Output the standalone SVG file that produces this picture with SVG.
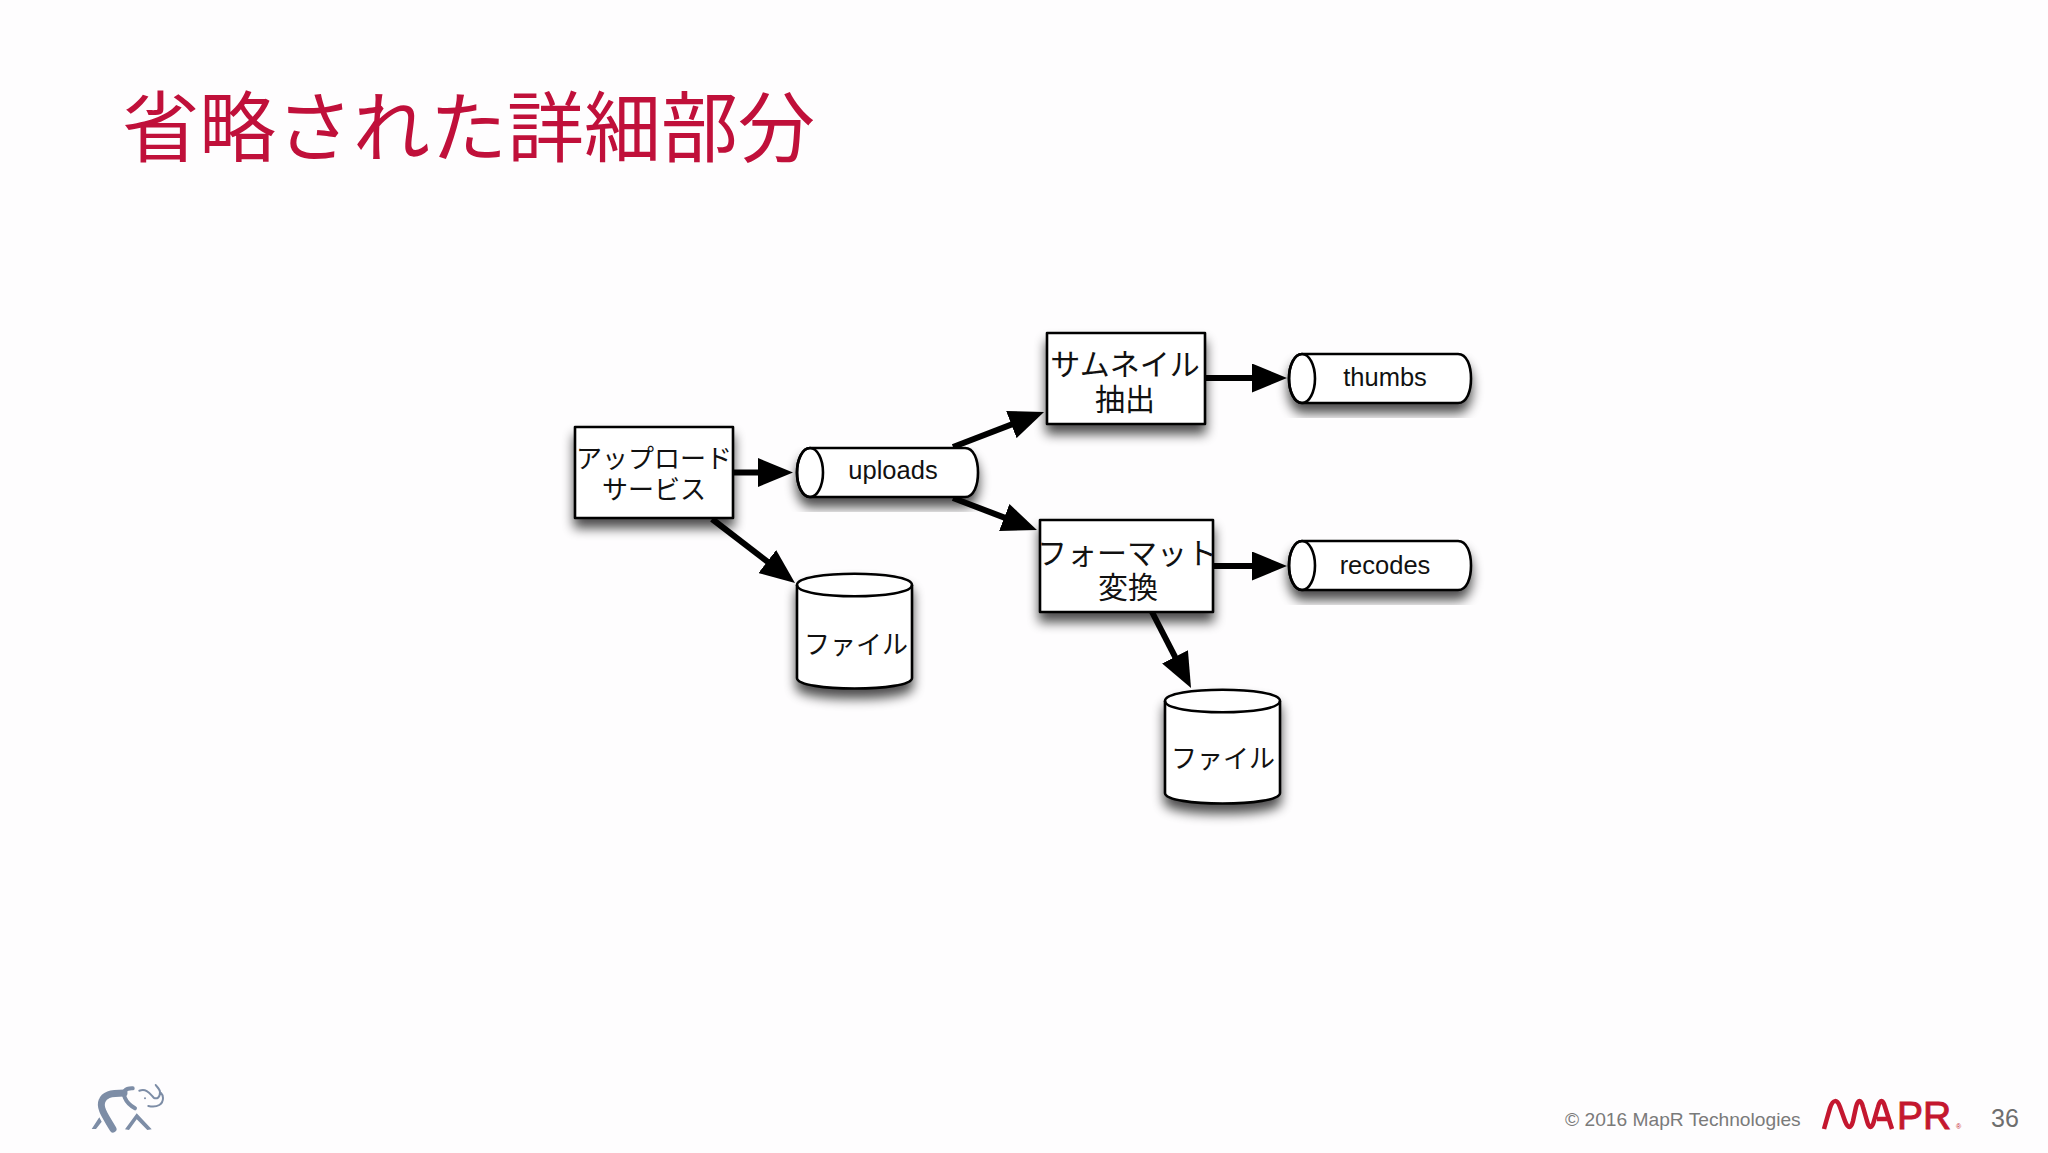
<svg xmlns="http://www.w3.org/2000/svg" width="2048" height="1153" viewBox="0 0 2048 1153">
<style>
.s{fill:#fff;stroke:#000;stroke-width:2.600;stroke-linejoin:round}
.n{fill:none;stroke:#000;stroke-width:2.600}
.j{font-family:"Noto Sans CJK JP","Noto Sans",sans-serif;font-weight:400;fill:#111;text-anchor:middle}
.l{font-family:"Liberation Sans",Arial,sans-serif;font-size:25.500px;fill:#111;text-anchor:middle}
.c{stroke:#000;stroke-width:6;fill:none}
.e{fill:none;stroke:#7d8da6;stroke-linecap:round}
</style>
<defs>
<filter id="sh" x="-20%" y="-20%" width="140%" height="150%"><feGaussianBlur in="SourceAlpha" stdDeviation="6"/><feOffset dy="9"/><feComponentTransfer><feFuncA type="linear" slope="0.7"/></feComponentTransfer><feMerge><feMergeNode/><feMergeNode in="SourceGraphic"/></feMerge></filter>
<marker id="ah" markerUnits="userSpaceOnUse" markerWidth="36" markerHeight="29" refX="10" refY="14.500" orient="auto"><path d="M0,0L35,14.500L0,29Z" fill="#000"/></marker>
</defs>
<rect width="2048" height="1153" fill="#fefdfe"/>
<text x="122" y="156" font-family="'Noto Sans CJK JP',sans-serif" font-weight="400" font-size="77" fill="#c0103a">省略された詳細部分</text>
<g id="connectors">
<path class="c" d="M733,472.500H768" marker-end="url(#ah)"/>
<path class="c" d="M953,447L1020.700,421" marker-end="url(#ah)"/>
<path class="c" d="M953,498L1013.600,521.100" marker-end="url(#ah)"/>
<path class="c" d="M712,519L775.200,567.700" marker-end="url(#ah)"/>
<path class="c" d="M1205,378H1262" marker-end="url(#ah)"/>
<path class="c" d="M1213,566H1262" marker-end="url(#ah)"/>
<path class="c" d="M1152,612L1179.600,665.700" marker-end="url(#ah)"/>
</g>
<g id="upload-service"><rect class="s" filter="url(#sh)" x="575" y="427" width="158" height="91"/><text class="j" font-size="26" x="654" y="468">アップロード</text><text class="j" font-size="26" x="654" y="499">サービス</text></g>
<g id="uploads"><path class="s" filter="url(#sh)" d="M810,448H965C974,448 978,460 978,472.500C978,485 974,497 965,497H810C802,497 797,485 797,472.500C797,460 802,448 810,448Z"/><ellipse class="n" cx="810" cy="472.500" rx="13" ry="24.500"/><text class="l" x="893" y="479">uploads</text></g>
<g id="thumbnail"><rect class="s" filter="url(#sh)" x="1047" y="333" width="158" height="91"/><text class="j" font-size="30" x="1125" y="375">サムネイル</text><text class="j" font-size="30" x="1125" y="410">抽出</text></g>
<g id="thumbs"><path class="s" filter="url(#sh)" d="M1302,354H1458C1467,354 1471,366 1471,378.500C1471,391 1467,403 1458,403H1302C1294,403 1289,391 1289,378.500C1289,366 1294,354 1302,354Z"/><ellipse class="n" cx="1302" cy="378.500" rx="13" ry="24.500"/><text class="l" x="1385" y="386">thumbs</text></g>
<g id="format"><rect class="s" filter="url(#sh)" x="1040" y="520" width="173" height="92"/><text class="j" font-size="30" x="1127" y="564">フォーマット</text><text class="j" font-size="30" x="1128" y="598">変換</text></g>
<g id="recodes"><path class="s" filter="url(#sh)" d="M1302,541H1458C1467,541 1471,553 1471,565.500C1471,578 1467,590 1458,590H1302C1294,590 1289,578 1289,565.500C1289,553 1294,541 1302,541Z"/><ellipse class="n" cx="1302" cy="565.500" rx="13" ry="24.500"/><text class="l" x="1385" y="574">recodes</text></g>
<g id="file-1"><path class="s" filter="url(#sh)" d="M797,585C797,570 912,570 912,585V678C912,692 797,692 797,678Z"/><path class="n" d="M797,585C797,600 912,600 912,585"/><text class="j" font-size="26" x="856" y="654">ファイル</text></g>
<g id="file-2"><path class="s" filter="url(#sh)" d="M1165,701C1165,686 1280,686 1280,701V793C1280,807 1165,807 1165,793Z"/><path class="n" d="M1165,701C1165,716 1280,716 1280,701"/><text class="j" font-size="26" x="1223" y="768">ファイル</text></g>
<g id="elephant">
<path class="e" stroke-width="7" stroke-linecap="butt" d="M113,1129C106,1117 99,1108 102,1101C104,1095 110,1093 124,1093"/>
<path class="e" stroke-width="4" d="M132.700,1088.300C125,1088 122,1092 125,1098C127,1103 131,1106 135,1108.300"/>
<path class="e" stroke-width="2" d="M139.300,1090.700C147,1088 150,1094 154,1098C157,1099 160,1098 160,1092C160,1089 156,1086 155.700,1085M148.300,1106C158,1108 163,1104 163,1098C163,1096 162,1094 161,1093"/>
<circle cx="145" cy="1098.300" r="1" fill="#7d8da6"/>
<path fill="#7d8da6" d="M91.700,1129L99.300,1117.300L101.700,1121.700L96,1129ZM125,1129.300L136.700,1113.300L151.700,1129.300L147.300,1130L136.700,1119.300L129,1130Z"/>
</g>
<text x="1565" y="1126" font-family="'Liberation Sans',Arial,sans-serif" font-size="19.200" fill="#7a7a7a">© 2016 MapR Technologies</text>
<g id="mapr-logo" fill="#c4172f">
<path d="M1824,1129L1830,1108C1833,1099 1837,1099 1840,1107L1845,1121C1848,1129 1851,1129 1853,1121L1856,1107C1858,1099 1861,1099 1863,1107L1867,1121C1869,1129 1872,1129 1874,1121L1878,1107C1880,1099 1883,1099 1885,1107L1892,1129M1877,1119H1888" fill="none" stroke="#c4172f" stroke-width="4.500"/>
<text x="1897" y="1129" font-family="'Liberation Sans',Arial,sans-serif" font-size="39" stroke="#c4172f" stroke-width="1">PR</text>
<text x="1956" y="1129" font-family="'Liberation Sans',Arial,sans-serif" font-size="7">®</text>
</g>
<text x="1991" y="1127" font-family="'Liberation Sans',Arial,sans-serif" font-size="25" fill="#6e6e6e">36</text>
</svg>
